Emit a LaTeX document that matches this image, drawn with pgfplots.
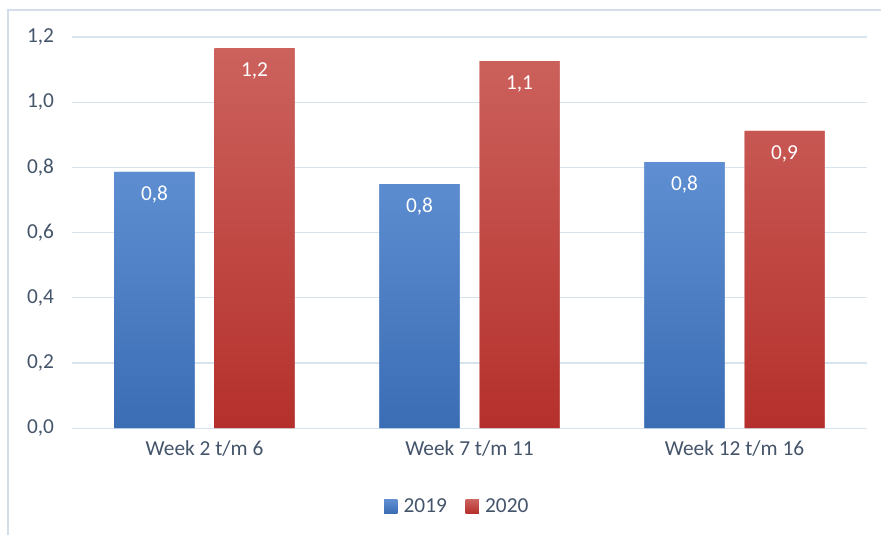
\documentclass[border=0pt]{standalone}
\usepackage{pgfplots}
\pgfplotsset{compat=1.18}
\usepackage{fontspec}
\setmainfont{Carlito}
\definecolor{tickc}{HTML}{44546A}
\definecolor{gridc}{HTML}{D6E4F0}
\definecolor{frc}{HTML}{D3DEEA}
\definecolor{btop}{HTML}{5F8FD2}
\definecolor{bbot}{HTML}{3B6DB5}
\definecolor{rtop}{HTML}{CC625D}
\definecolor{rbot}{HTML}{B5302C}
\begin{document}
\begin{tikzpicture}
\begin{axis}[
  name=ax,
  scale only axis,
  width=596pt, height=293.25pt,
  xmin=-0.5, xmax=2.5,
  ymin=0, ymax=1.2,
  ytick={0,0.2,...,1.2},
  xtick={0,1,2},
  xticklabels={Week 2 t/m 6, Week 7 t/m 11, Week 12 t/m 16},
  ybar=15pt, bar width=60pt,
  axis x line*=bottom,
  axis y line*=left,
  y axis line style={draw=none},
  x axis line style={draw=gridc, line width=0.8pt},
  ymajorgrids,
  grid style={draw=gridc, line width=0.8pt},
  major tick length=0pt,
  tick style={draw=none},
  /pgf/number format/.cd, use comma, fixed, fixed zerofill, precision=1, assume math mode=true,
  /pgfplots/.cd,
  ticklabel style={font=\fontsize{16}{19}\selectfont, text=tickc},
  yticklabel style={xshift=-10pt},
  xticklabel style={yshift=-6pt},
  legend style={at={(0.485,-0.2)}, anchor=center, draw=none, legend columns=2,
    font=\fontsize{16}{19}\selectfont, text=tickc,
    /tikz/every even column/.append style={column sep=12pt}},
  legend image code/.code={\fill[#1] (0pt,-5pt) rectangle (10pt,5pt);},
  point meta=explicit symbolic,
  nodes near coords,
  every node near coord/.append style={anchor=center, yshift=-17pt, text=white, font=\fontsize{16}{19}\selectfont},
]
\addplot[draw=none, top color=btop, bottom color=bbot, fill=btop] table[meta=lab] {
x y lab
0 0.786 0,8
1 0.749 0,8
2 0.816 0,8
};
\addplot[draw=none, top color=rtop, bottom color=rbot, fill=rtop] table[meta=lab] {
x y lab
0 1.166 1,2
1 1.126 1,1
2 0.912 0,9
};
\legend{\,2019, \,2020}
\end{axis}
\useasboundingbox ([shift={(-54pt,-80.25pt)}]ax.south west) rectangle ([shift={(10.5pt,27.75pt)}]ax.north east);
\draw[frc, line width=1pt] ([shift={(-48pt,-80.25pt)}]ax.south west) -- ([shift={(-48pt,20.25pt)}]ax.north west) -- ([shift={(10.5pt,20.25pt)}]ax.north east);
\end{tikzpicture}
\end{document}
